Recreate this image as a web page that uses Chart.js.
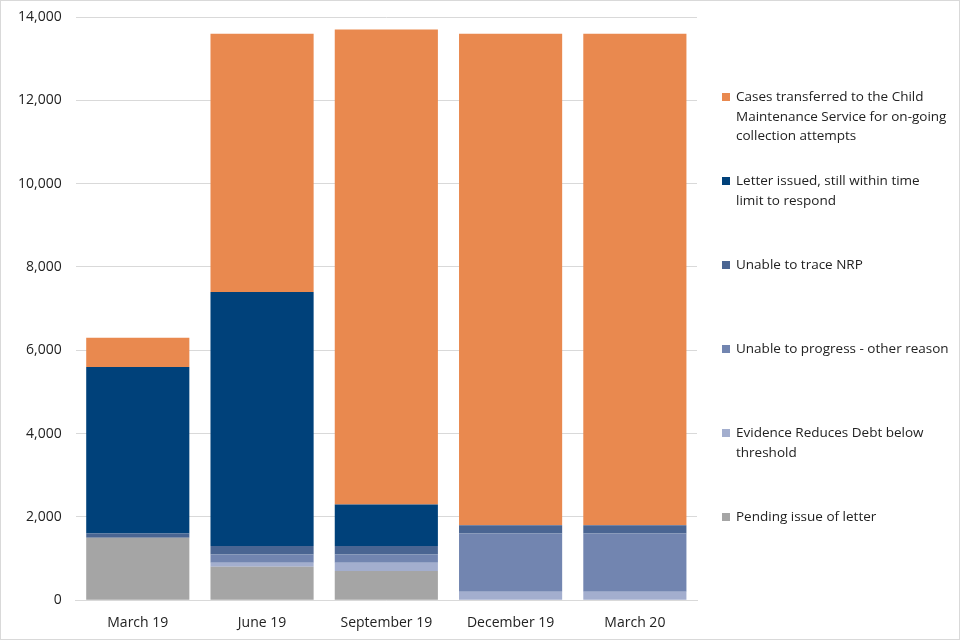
<!DOCTYPE html>
<html>
<head>
<meta charset="utf-8">
<script src="https://cdn.jsdelivr.net/npm/chart.js@4/dist/chart.umd.min.js"></script>
<style>
  html, body { margin: 0; padding: 0; background: #fff; }
  #wrap { position: relative; width: 958px; height: 638px; border: 1px solid #d9d9d9; overflow: hidden; }
  #c { position: absolute; left: 0; top: 0; }
  #legend { position: absolute; left: 0; top: 0; width: 0; height: 0; }
  .item { position: absolute; left: 721px; width: 236px; font-family: "Open Sans", sans-serif; font-size: 13.5px; line-height: 19.5px; color: #222; }
  .item .sw { position: absolute; left: 0; top: 6px; width: 8px; height: 8px; }
  .item .tx { margin-left: 14px; display: block; white-space: pre; }
</style>
</head>
<body>
<div id="wrap">
  <canvas id="c" width="958" height="648"></canvas>
  <div id="legend"></div>
</div>
<script>
const categories = ["March 19", "June 19", "September 19", "December 19", "March 20"];
const pendingIssue    = [1500, 800, 700, 0, 0];
const evidenceReduces = [0, 100, 200, 200, 200];
const unableOther     = [0, 200, 200, 1400, 1400];
const unableTrace     = [100, 200, 200, 200, 200];
const letterIssued    = [4000, 6100, 1000, 0, 0];
const casesTransferred = [700, 6200, 11400, 11800, 11800];
const yTicks = [0, 2000, 4000, 6000, 8000, 10000, 12000, 14000];

const seriesLabels = [
  "Pending issue of letter",
  "Evidence Reduces Debt below\nthreshold",
  "Unable to progress - other reason",
  "Unable to trace NRP",
  "Letter issued, still within time\nlimit to respond",
  "Cases transferred to the Child\nMaintenance Service for on-going\ncollection attempts"
];
const seriesColors = ["#a5a5a5", "#a3aece", "#7285b0", "#4a6592", "#00417a", "#e9894f"];
const seriesData = [pendingIssue, evidenceReduces, unableOther, unableTrace, letterIssued, casesTransferred];

const datasets = seriesData.map((d, i) => ({
  label: seriesLabels[i],
  data: d,
  backgroundColor: seriesColors[i],
  borderWidth: 0,
  barPercentage: 0.83,
  categoryPercentage: 1.0
}));

const chart = new Chart(document.getElementById('c'), {
  type: 'bar',
  data: { labels: categories, datasets },
  options: {
    responsive: false,
    animation: false,
    layout: { padding: { left: 15, right: 262, top: 16, bottom: 4 } },
    plugins: { legend: { display: false }, tooltip: { enabled: false } },
    scales: {
      x: {
        stacked: true,
        grid: { display: false, drawTicks: false },
        border: { display: true, color: '#d9d9d9' },
        ticks: { color: '#222', font: { family: 'Open Sans', size: 14 }, padding: 14 }
      },
      y: {
        stacked: true,
        min: 0, max: 14000,
        afterBuildTicks: (axis) => { axis.ticks = yTicks.map(v => ({ value: v })); },
        grid: { color: '#d9d9d9', drawTicks: true, tickLength: 12, tickColor: 'rgba(0,0,0,0)' },
        border: { display: false },
        ticks: {
          color: '#222', font: { family: 'Open Sans', size: 14 }, padding: 2,
          callback: (v) => v.toLocaleString('en-US')
        }
      }
    }
  }
});

// HTML legend (top series first), built from datasets
const legend = document.getElementById('legend');
const tops = [96, 180, 264, 348, 432, 516];
datasets.slice().reverse().forEach((ds, i) => {
  const el = document.createElement('div');
  el.className = 'item';
  el.style.top = (tops[i] - 10) + 'px';
  el.innerHTML = '<span class="sw" style="background:' + ds.backgroundColor + '"></span><span class="tx"></span>';
  el.querySelector('.tx').textContent = ds.label;
  legend.appendChild(el);
});
</script>
</body>
</html>
